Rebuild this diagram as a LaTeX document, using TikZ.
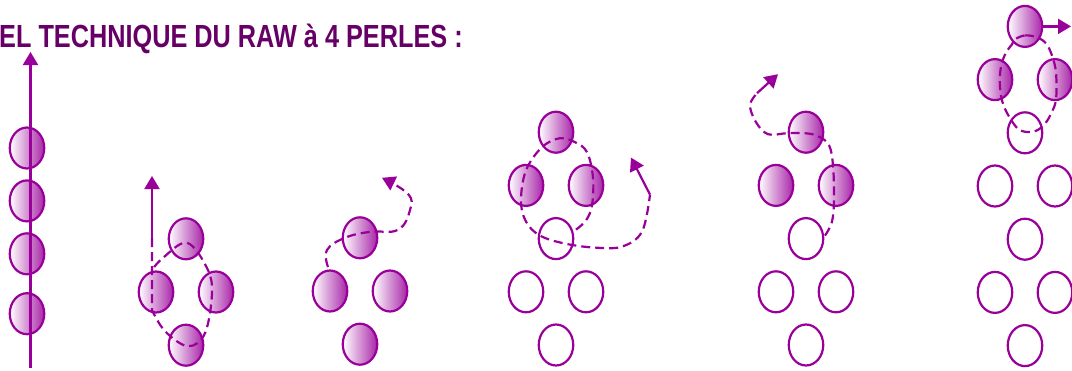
\documentclass[tikz,border=0pt]{standalone}
\usepackage{fontspec}
\newfontfamily\titrefont[FakeStretch=0.79]{Liberation Sans}
\usetikzlibrary{matrix, positioning, shapes.geometric, arrows.meta}

\definecolor{fil}{RGB}{153,0,153}
\definecolor{titre}{RGB}{102,0,102}

\begin{document}
\begin{tikzpicture}[
    x=1pt, y=-1pt,
    bille/.style={ellipse, draw=fil, line width=2.2pt, minimum width=34.5pt, minimum height=41pt, inner sep=0pt, fill=white},
    perle/.style={left color=white, right color=fil!85},
    vide/.style={},
    rang/.style={matrix of nodes, column sep={30pt,between origins}, row sep={53.2pt,between origins}, nodes={bille, anchor=center}},
    brin/.style={draw=fil, line width=2.2pt},
    tirets/.style={brin, dash pattern=on 9pt off 5pt},
    fleche/.style={-{Triangle[length=13pt,width=15pt]}}
  ]

  \useasboundingbox (0,0) rectangle (1072,370);

  \node[anchor=base west, inner sep=0pt, text=titre, font=\titrefont\bfseries\fontsize{32}{36}\selectfont] (tit) at (-1,47) {EL TECHNIQUE DU RAW à 4 PERLES :};

  % 1
  \node[bille, perle] (a1) at (27,148) {};
  \node[bille, perle, below=9.7pt of a1] (a2) {};
  \node[bille, perle, below=9.7pt of a2] (a3) {};
  \node[bille, perle, below=16.7pt of a3] (a4) {};
  \coordinate (a0) at (30.5,368);
  \coordinate (a5) at (30.5,52);
  \draw[brin, fleche] (a0) -- (a5);

  % 2
  \matrix (m2) [rang] at (186,292) {
      & |[perle]| & \\
    |[perle]| & & |[perle]| \\
      & |[perle]| & \\
  };
  \coordinate (b0) at ([shift={(-4,-54)}]m2-2-1.center);
  \coordinate (b5) at ([shift={(-4,-116)}]m2-2-1.center);
  \draw[brin, fleche] (b0) -- (b5);
  \draw[tirets] (b0) -- plot[smooth, tension=0.6] coordinates {
    ([shift={(-4,18)}]m2-2-1.center) ([shift={(-21,-14)}]m2-3-2.center)
    ([shift={(2,1)}]m2-3-2.center) ([shift={(19,-12)}]m2-3-2.center)
    ([shift={(-4,1)}]m2-2-3.center) ([shift={(-9,-24)}]m2-2-3.center)
    ([shift={(1,4)}]m2-1-2.center) ([shift={(-23,19)}]m2-1-2.center)
    ([shift={(-4,-22)}]m2-2-1.center)};

  % 3
  \matrix (m3) [rang] at (360,291) {
      & |[perle]| & \\
    |[perle]| & & |[perle]| \\
      & |[perle]| & \\
  };
  \draw[tirets, fleche] plot[smooth, tension=0.7] coordinates {
    ([shift={(-2,-24)}]m3-2-1.center) ([shift={(-3,-41)}]m3-2-1.center)
    ([shift={(-15,0)}]m3-1-2.center) ([shift={(10,-6)}]m3-1-2.center)
    ([shift={(38,-8)}]m3-1-2.center) ([shift={(20,-81)}]m3-2-3.center)
    ([shift={(18,-97)}]m3-2-3.center) ([shift={(22,-60)}]m3-1-2.center)};

  % 4
  \matrix (m4) [rang] at (556,238.6) {
      & |[perle]| & \\
    |[perle]| & & |[perle]| \\
      & |[vide]| & \\
    |[vide]| & & |[vide]| \\
      & |[vide]| & \\
  };
  \coordinate (d0) at ([shift={(94,-44)}]m4-3-2.center);
  \coordinate (d5) at ([shift={(75,-81)}]m4-3-2.center);
  \draw[tirets] plot[smooth, tension=0.6] coordinates {
    ([shift={(20,-9)}]m4-3-2.center) ([shift={(0,35)}]m4-2-3.center)
    ([shift={(6,20)}]m4-2-3.center) ([shift={(7,-8)}]m4-2-3.center)
    ([shift={(31,20)}]m4-1-2.center) ([shift={(19,10)}]m4-1-2.center)
    ([shift={(4,6)}]m4-1-2.center) ([shift={(-14,15)}]m4-1-2.center)
    ([shift={(0,-15)}]m4-2-1.center) ([shift={(-5,15)}]m4-2-1.center)
    ([shift={(-30,-17)}]m4-3-2.center) ([shift={(-16,-3)}]m4-3-2.center)
    ([shift={(9,5)}]m4-3-2.center) ([shift={(39,9)}]m4-3-2.center)
    ([shift={(66,8)}]m4-3-2.center) ([shift={(86,-7)}]m4-3-2.center)
    (d0)};
  \draw[brin, fleche] (d0) -- (d5);

  % 5
  \matrix (m5) [rang] at (806,238.6) {
      & |[perle]| & \\
    |[perle]| & & |[perle]| \\
      & |[vide]| & \\
    |[vide]| & & |[vide]| \\
      & |[vide]| & \\
  };
  \coordinate (e0) at ([shift={(-49,-39)}]m5-1-2.center);
  \coordinate (e5) at ([shift={(-28,-58)}]m5-1-2.center);
  \draw[tirets] plot[smooth, tension=0.6] coordinates {
    ([shift={(19,-3)}]m5-3-2.center) ([shift={(26,-17)}]m5-3-2.center)
    ([shift={(-2,13)}]m5-2-3.center) ([shift={(-3,-20)}]m5-2-3.center)
    ([shift={(23,13)}]m5-1-2.center) ([shift={(12,4)}]m5-1-2.center)
    ([shift={(-1,1)}]m5-1-2.center) ([shift={(-19,1)}]m5-1-2.center)
    ([shift={(-38,2)}]m5-1-2.center) ([shift={(-50,-10)}]m5-1-2.center)
    ([shift={(-56,-27)}]m5-1-2.center) (e0)};
  \draw[brin, fleche] (e0) -- (e5);

  % 6
  \matrix (m6) [rang] at (1025,186) {
      & |[perle]| & \\
    |[perle]| & & |[perle]| \\
      & |[vide]| & \\
    |[vide]| & & |[vide]| \\
      & |[vide]| & \\
    |[vide]| & & |[vide]| \\
      & |[vide]| & \\
  };
  \coordinate (f5) at ([shift={(46,0)}]m6-1-2.center);
  \draw[brin, fleche] (m6-1-2.east) -- (f5);
  \draw[tirets] plot[smooth cycle, tension=0.6] coordinates {
    ([shift={(-10,13)}]m6-1-2.center) ([shift={(0,9)}]m6-1-2.center)
    ([shift={(12,11)}]m6-1-2.center) ([shift={(21,17)}]m6-1-2.center)
    ([shift={(-3,-24)}]m6-2-3.center) ([shift={(1,-7)}]m6-2-3.center)
    ([shift={(1,20)}]m6-2-3.center) ([shift={(-4,34)}]m6-2-3.center)
    ([shift={(20,-9)}]m6-3-2.center) ([shift={(11,-2)}]m6-3-2.center)
    ([shift={(0,-1)}]m6-3-2.center) ([shift={(-9,-6)}]m6-3-2.center)
    ([shift={(9,27)}]m6-2-1.center) ([shift={(5,7)}]m6-2-1.center)
    ([shift={(6,-13)}]m6-2-1.center) ([shift={(11,-27)}]m6-2-1.center)
    ([shift={(-13,18)}]m6-1-2.center)};

\end{tikzpicture}
\end{document}
